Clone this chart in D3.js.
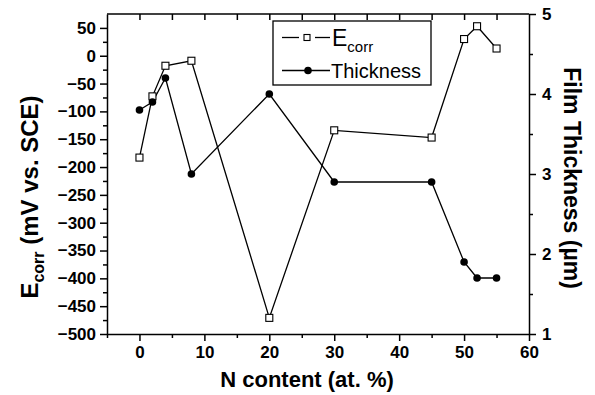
<!DOCTYPE html>
<html>
<head>
<meta charset="utf-8">
<script src="https://cdn.jsdelivr.net/npm/d3@7"></script>
<style>
  body { margin: 0; background: #fff; }
  svg { font-family: "Liberation Sans", Arial, sans-serif; }
</style>
</head>
<body>
<svg id="svg"></svg>
<script>
const width = 595, height = 395;
const margin = { top: 14, right: 66, bottom: 61, left: 107 };

// data
const nContent = [0, 2, 4, 8, 20, 30, 45, 50, 52, 55];
const ecorr = [-183, -73, -18, -9, -471, -134, -147, 30, 53, 13];
const thickness = [3.8, 3.9, 4.2, 3.0, 4.0, 2.9, 2.9, 1.9, 1.7, 1.7];

const xTicks = [0, 10, 20, 30, 40, 50, 60];
const xMinor = [-5, 5, 15, 25, 35, 45, 55];
const yLeftTicks = d3.range(-500, 51, 50);
const yLeftMinor = d3.range(-475, 76, 50);
const yRightTicks = [1, 2, 3, 4, 5];
const yRightMinor = [1.5, 2.5, 3.5, 4.5];

const w = width - margin.left - margin.right;
const h = height - margin.top - margin.bottom;

const svg = d3.select("#svg").attr("width", width).attr("height", height);
const g = svg.append("g").attr("transform", `translate(${margin.left},${margin.top})`);

const x = d3.scaleLinear().domain([-5, 60]).range([0, w]);
const yL = d3.scaleLinear().domain([-500, 75]).range([h, 0]);
const yR = d3.scaleLinear().domain([1, 5]).range([h, 0]);

function styleAxis(sel) {
    sel.selectAll("path, line").attr("stroke", "#000").attr("stroke-width", 1.5);
    sel.selectAll("text").attr("fill", "#000").style("font-size", "17px").style("font-weight", "bold");
}

// minor ticks first
g.append("g").attr("transform", `translate(0,${h})`)
    .call(d3.axisBottom(x).tickValues(xMinor).tickSize(4).tickFormat(""))
    .call(styleAxis).select(".domain").remove();
g.append("g")
    .call(d3.axisLeft(yL).tickValues(yLeftMinor.filter(v => v < 75)).tickSize(4).tickFormat(""))
    .call(styleAxis).select(".domain").remove();
g.append("g").attr("transform", `translate(${w},0)`)
    .call(d3.axisRight(yR).tickValues(yRightMinor).tickSize(4).tickFormat(""))
    .call(styleAxis).select(".domain").remove();
g.append("g")
    .call(d3.axisTop(x).tickValues(xMinor.concat(xTicks).filter(v => v > -5 && v < 60)).tickSize(-6).tickFormat(""))
    .call(styleAxis).select(".domain").remove();

// major axes
g.append("g").attr("transform", `translate(0,${h})`)
    .call(d3.axisBottom(x).tickValues(xTicks).tickSize(7).tickSizeOuter(0).tickPadding(5))
    .call(styleAxis);
g.append("g")
    .call(d3.axisLeft(yL).tickValues(yLeftTicks).tickSize(7).tickSizeOuter(0).tickPadding(4))
    .call(styleAxis);
g.append("g").attr("transform", `translate(${w},0)`)
    .call(d3.axisRight(yR).tickValues(yRightTicks).tickFormat(d3.format("d")).tickSize(7).tickSizeOuter(0).tickPadding(6))
    .call(styleAxis);
g.append("line")
    .attr("x1", 0).attr("x2", w).attr("y1", 0).attr("y2", 0)
    .attr("stroke", "#000").attr("stroke-width", 1.5);

// series lines
const lineE = d3.line().x((d, i) => x(nContent[i])).y(d => yL(d));
const lineT = d3.line().x((d, i) => x(nContent[i])).y(d => yR(d));

g.append("path").datum(ecorr).attr("d", lineE)
    .attr("fill", "none").attr("stroke", "#000").attr("stroke-width", 1.3);
g.append("path").datum(thickness).attr("d", lineT)
    .attr("fill", "none").attr("stroke", "#000").attr("stroke-width", 1.3);

g.selectAll(".sq").data(ecorr).enter().append("rect")
    .attr("x", (d, i) => x(nContent[i]) - 3.5)
    .attr("y", d => yL(d) - 3.5)
    .attr("width", 7).attr("height", 7)
    .attr("fill", "#fff").attr("stroke", "#000").attr("stroke-width", 1.1);

g.selectAll(".dot").data(thickness).enter().append("circle")
    .attr("cx", (d, i) => x(nContent[i]))
    .attr("cy", d => yR(d))
    .attr("r", 3.8)
    .attr("fill", "#000");

// legend
const lg = svg.append("g").attr("transform", "translate(273,21)");
lg.append("rect").attr("width", 158).attr("height", 64)
    .attr("fill", "#fff").attr("stroke", "#000").attr("stroke-width", 1.3);
lg.append("line").attr("x1", 9).attr("x2", 26).attr("y1", 16.5).attr("y2", 16.5).attr("stroke", "#000").attr("stroke-width", 1.3);
lg.append("line").attr("x1", 42).attr("x2", 57).attr("y1", 16.5).attr("y2", 16.5).attr("stroke", "#000").attr("stroke-width", 1.3);
lg.append("rect").attr("x", 31).attr("y", 13.5).attr("width", 6).attr("height", 6)
    .attr("fill", "#fff").attr("stroke", "#000").attr("stroke-width", 1.1);
lg.append("line").attr("x1", 9).attr("x2", 57).attr("y1", 49.5).attr("y2", 49.5).attr("stroke", "#000").attr("stroke-width", 1.3);
lg.append("circle").attr("cx", 35).attr("cy", 49.5).attr("r", 3.8).attr("fill", "#000");
const t1 = lg.append("text").attr("x", 59).attr("y", 25).style("font-size", "23px");
t1.append("tspan").text("E");
t1.append("tspan").attr("dy", 6).style("font-size", "15px").text("corr");
lg.append("text").attr("x", 58).attr("y", 57).style("font-size", "20px").text("Thickness");

// axis titles
svg.append("text").attr("x", 307).attr("y", 387)
    .attr("text-anchor", "middle").style("font-size", "22px").style("font-weight", "bold")
    .text("N content (at. %)");

const tl = svg.append("text")
    .attr("transform", "translate(38,197) rotate(-90)")
    .attr("text-anchor", "middle").style("font-size", "24px").style("font-weight", "bold");
tl.append("tspan").text("E");
tl.append("tspan").attr("dy", 6).style("font-size", "16px").text("corr");
tl.append("tspan").attr("dy", -6).text(" (mV vs. SCE)");

svg.append("text")
    .attr("transform", "translate(564,178) rotate(90)")
    .attr("text-anchor", "middle").style("font-size", "23px").style("font-weight", "bold")
    .text("Film Thickness (\u00b5m)");
</script>
</body>
</html>
